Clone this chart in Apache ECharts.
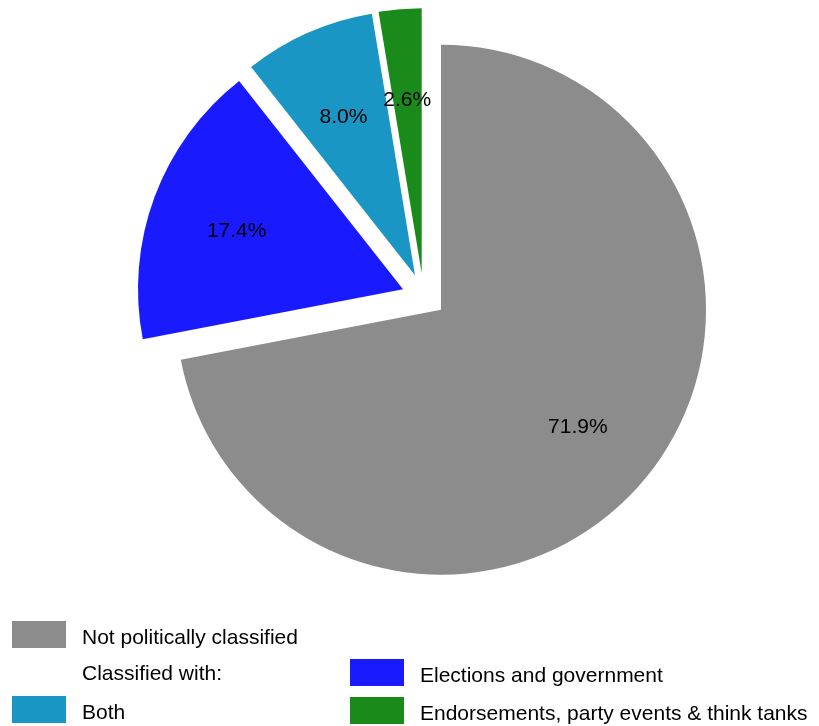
<!DOCTYPE html>
<html>
<head>
<meta charset="utf-8">
<script src="https://cdn.jsdelivr.net/npm/echarts@6/dist/echarts.min.js"></script>
<style>
  html, body { margin: 0; padding: 0; background: #ffffff; }
  #chart { width: 819px; height: 726px; }
</style>
</head>
<body>
<div id="chart"></div>
<script>
// Share of items by political classification
const categories = [
  'Not politically classified',
  'Elections and government',
  'Both',
  'Endorsements, party events & think tanks'
];
const shares = [71.9, 17.4, 8.0, 2.6];
const sliceColors = ['#8c8c8c', '#1a1aff', '#1a96c4', '#1a8a1a'];

const FONT = '"Liberation Sans", Arial, Helvetica, sans-serif';
const CENTER = [441, 309.7];
const R = 265;
const LABEL_R0 = 84;   // inner radius of the label ring, puts labels at ~0.66 R
// pull-out shift of each wedge from the common centre, in px
const SHIFT = [[0, 0], [-38, -20.5], [-26, -34.5], [-19.3, -36.4]];

// Each wedge gets its own pie (all values kept, so angles come from the full total),
// with only that wedge painted; a second ring pie carries its percentage label.
function wedgeSeries(k) {
  const c = [CENTER[0] + SHIFT[k][0], CENTER[1] + SHIFT[k][1]];
  const common = {
    type: 'pie',
    center: c,
    startAngle: 90,
    clockwise: true,
    selectedMode: false,
    avoidLabelOverlap: false,
    legendHoverLink: false,
    emphasis: { disabled: true },
    labelLine: { show: false },
    z: 2
  };
  const fill = Object.assign({}, common, {
    radius: [0, R],
    label: { show: false },
    data: categories.map((name, i) => ({
      name,
      value: shares[i],
      itemStyle: i === k
        ? { color: sliceColors[i], borderWidth: 0 }
        : { color: 'rgba(0,0,0,0)', borderWidth: 0 }
    }))
  });
  const labels = Object.assign({}, common, {
    radius: [LABEL_R0, R],
    silent: true,
    z: 3,
    data: categories.map((name, i) => ({
      name,
      value: shares[i],
      itemStyle: { color: 'rgba(0,0,0,0)', borderWidth: 0 },
      label: {
        show: i === k,
        position: 'inside',
        formatter: p => '{v|' + p.value.toFixed(1) + '%}',
        rich: {
          v: { color: '#000', fontSize: 21, fontFamily: FONT, padding: [8, 0, 0, 0] }
        }
      }
    }))
  });
  return [fill, labels];
}

const series = [];
categories.forEach((_, k) => series.push(...wedgeSeries(k)));

const legendItem = i => ({
  name: categories[i],
  itemStyle: { color: sliceColors[i], opacity: 1, borderWidth: 0 }
});
const legendBase = {
  orient: 'vertical',
  icon: 'rect',
  itemWidth: 54,
  itemHeight: 27,
  itemGap: 10,
  padding: 0,
  selectedMode: false,
  formatter: name => '{t|' + name + '}',
  textStyle: {
    color: '#000', fontSize: 21, fontFamily: FONT,
    rich: {
      t: { color: '#000', fontSize: 21, fontFamily: FONT, padding: [8, 0, 0, 11] }
    }
  }
};

const chart = echarts.init(document.getElementById('chart'), null, { renderer: 'canvas' });
chart.setOption({
  animation: false,
  backgroundColor: '#ffffff',
  legend: [
    Object.assign({}, legendBase, { left: 12, top: 621, data: [legendItem(0)] }),
    Object.assign({}, legendBase, { left: 12, top: 696, data: [legendItem(2)] }),
    Object.assign({}, legendBase, { left: 350, top: 659, data: [legendItem(1), legendItem(3)] })
  ],
  graphic: [{
    type: 'text',
    left: 82,
    top: 664,
    style: { text: 'Classified with:', fill: '#000', font: '21px ' + FONT }
  }],
  series
});
</script>
</body>
</html>
